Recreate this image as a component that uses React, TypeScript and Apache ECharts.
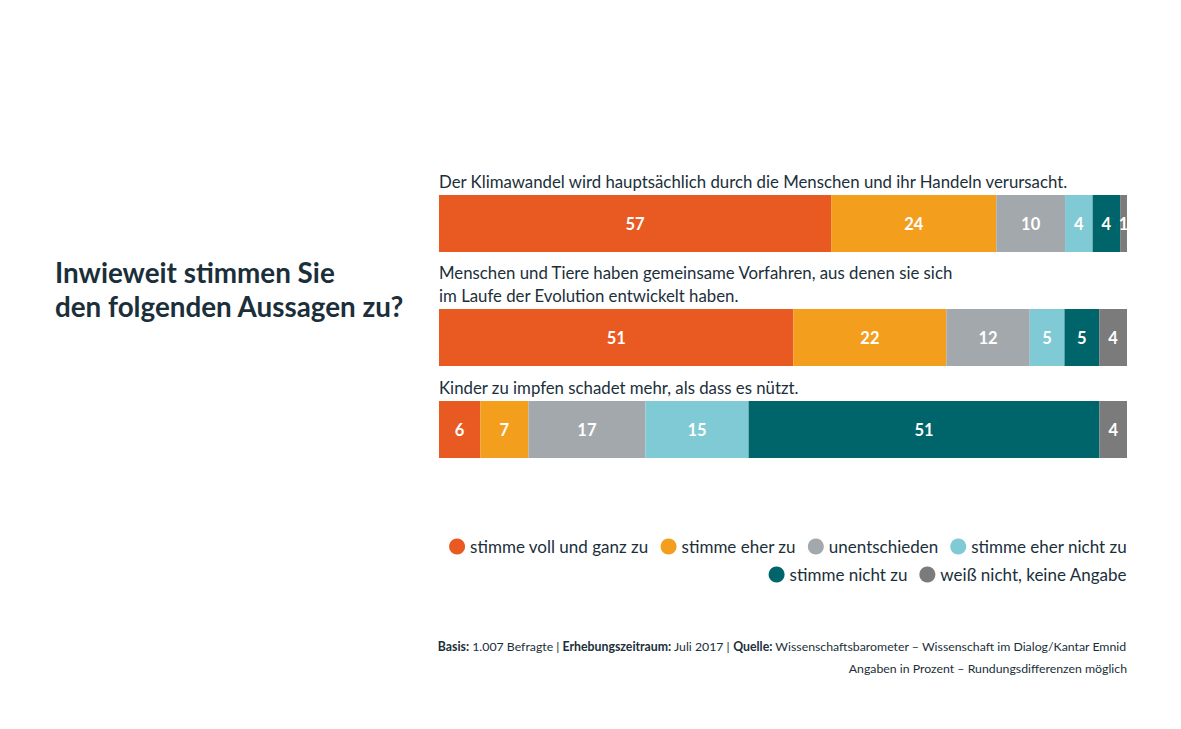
import React, { useEffect, useRef } from "react";
import * as echarts from "echarts";

const statements = [
  "Der Klimawandel wird hauptsächlich durch die Menschen und ihr Handeln verursacht.",
  "Menschen und Tiere haben gemeinsame Vorfahren, aus denen sie sich\nim Laufe der Evolution entwickelt haben.",
  "Kinder zu impfen schadet mehr, als dass es nützt.",
];

const answerNames = [
  "stimme voll und ganz zu",
  "stimme eher zu",
  "unentschieden",
  "stimme eher nicht zu",
  "stimme nicht zu",
  "weiß nicht, keine Angabe",
];

const stimmeVoll = [57, 51, 6];
const stimmeEher = [24, 22, 7];
const unentschieden = [10, 12, 17];
const eherNicht = [4, 5, 15];
const nichtZu = [4, 5, 51];
const weissNicht = [1, 4, 4];

const seriesValues = [stimmeVoll, stimmeEher, unentschieden, eherNicht, nichtZu, weissNicht];

const colors = ["#E95A23", "#F49E1E", "#A3A8AD", "#7FCAD4", "#00656A", "#7B7B7B"];

const TEXT = "#1B2F3A";
const FONT = "Lato";

export default function App() {
  const ref = useRef<HTMLDivElement>(null);
  useEffect(() => {
    if (!ref.current) return;
    const chart = echarts.init(ref.current, undefined, { renderer: "svg" });

    const barTops = [195, 309, 401];
    const barH = 57;
    const left = 439;
    const width = 688;
    const labelCenters = [[184], [275, 298], [390]];

    const grids = barTops.map((t) => ({ left, width, top: t, height: barH }));
    const xAxes = barTops.map((_, i) => ({
      gridIndex: i, type: "value", min: 0, max: 100, show: false,
    }));
    const yAxes = barTops.map((_, i) => ({
      gridIndex: i, type: "category", data: [statements[i]], show: false,
    }));

    const rowSums = statements.map((_, r) =>
      seriesValues.reduce((s, arr) => s + arr[r], 0)
    );

    const series: any[] = [];
    seriesValues.forEach((vals, si) => {
      statements.forEach((_, r) => {
        series.push({
          name: answerNames[si],
          type: "bar",
          stack: "row" + r,
          xAxisIndex: r,
          yAxisIndex: r,
          barWidth: barH,
          itemStyle: { color: colors[si] },
          label: {
            show: true,
            position: "inside",
            color: "#fff",
            fontFamily: FONT,
            fontWeight: "bold",
            fontSize: 16.5,
            formatter: () => String(vals[r]),
          },
          labelLayout: { hideOverlap: false },
          data: [(vals[r] / rowSums[r]) * 100],
        });
      });
    });

    const graphic: any[] = [];
    statements.forEach((s, i) => {
      s.split("\n").forEach((line, j) => {
        graphic.push({
          type: "text",
          left: left,
          top: labelCenters[i][j] - 11,
          style: {
            text: line,
            fill: TEXT,
            font: `16.8px ${FONT}`,
          },
        });
      });
    });

    graphic.push({
      type: "text",
      right: 54,
      top: 640,
      style: {
        text:
          "{b|Basis:} 1.007 Befragte | {b|Erhebungszeitraum:} Juli 2017 | {b|Quelle:} Wissenschaftsbarometer – Wissenschaft im Dialog/Kantar Emnid",
        fill: TEXT,
        font: `12.3px ${FONT}`,
        rich: { b: { fontWeight: "bold", fontSize: 12.3, fontFamily: FONT, fill: TEXT } },
      },
    });
    graphic.push({
      type: "text",
      right: 54,
      top: 662,
      style: {
        text: "Angaben in Prozent – Rundungsdifferenzen möglich",
        fill: TEXT,
        font: `12.3px ${FONT}`,
      },
    });

    const legendCommon = {
      right: 54,
      padding: 0,
      icon: "circle",
      itemWidth: 16,
      itemHeight: 16,
      itemGap: 12,
      textStyle: { color: TEXT, fontFamily: FONT, fontSize: 17 },
    };

    chart.setOption({
      animation: false,
      backgroundColor: "#fff",
      title: {
        text: "Inwieweit stimmen Sie\nden folgenden Aussagen zu?",
        left: 50,
        top: 250,
        textStyle: {
          color: TEXT,
          fontFamily: FONT,
          fontWeight: "bold",
          fontSize: 27.8,
          lineHeight: 34,
        },
      },
      grid: grids,
      xAxis: xAxes,
      yAxis: yAxes,
      legend: [
        { ...legendCommon, data: answerNames.slice(0, 4), top: 538 },
        { ...legendCommon, data: answerNames.slice(4), top: 566 },
      ],
      graphic,
      series,
    });
    return () => chart.dispose();
  }, []);
  return (
    <div
      ref={ref}
      style={{ position: "fixed", left: 0, top: 0, width: 1181, height: 729 }}
    />
  );
}
